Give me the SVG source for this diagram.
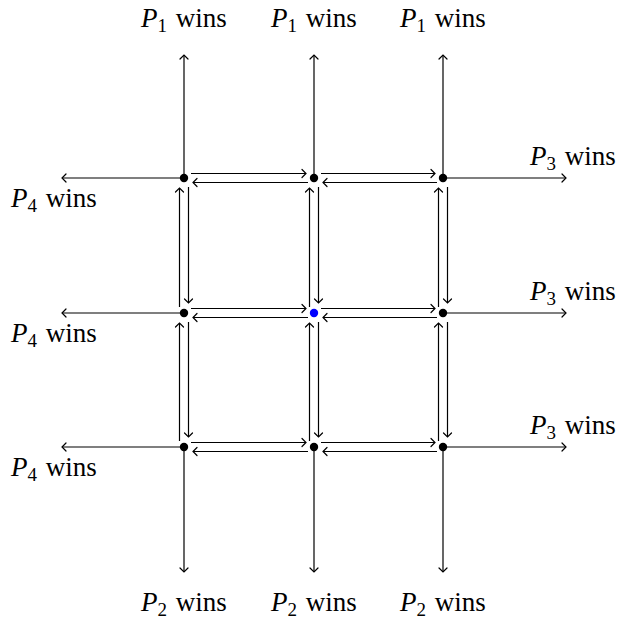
<svg xmlns="http://www.w3.org/2000/svg" width="621" height="621" viewBox="0 0 621 621">
<defs>
<marker id="ah" markerUnits="userSpaceOnUse" markerWidth="12" markerHeight="12" viewBox="-6 -6 12 12" refX="0" refY="0" orient="auto">
<path d="M-4,-4 Q-1,-1 0,0 Q-1,1 -4,4" fill="none" stroke="#000" stroke-width="1.2" stroke-linecap="round"/>
</marker>
</defs>
<style>
.c line{stroke:#000;stroke-width:1.2;marker-end:url(#ah)}
.n{fill:#000}
.p{font-style:italic}
.s{font-size:19px}
</style>
<rect width="621" height="621" fill="#fff"/>
<g id="connectors" class="c">
<line x1="184" y1="178" x2="184" y2="55"/>
<line x1="314" y1="178" x2="314" y2="55"/>
<line x1="443" y1="178" x2="443" y2="55"/>
<line x1="184" y1="447" x2="184" y2="572"/>
<line x1="314" y1="447" x2="314" y2="572"/>
<line x1="443" y1="447" x2="443" y2="572"/>
<line x1="184" y1="178" x2="62" y2="178"/>
<line x1="184" y1="313" x2="62" y2="313"/>
<line x1="184" y1="447" x2="62" y2="447"/>
<line x1="443" y1="178" x2="566" y2="178"/>
<line x1="443" y1="313" x2="566" y2="313"/>
<line x1="443" y1="447" x2="566" y2="447"/>
<line x1="191" y1="173.5" x2="306" y2="173.5"/>
<line x1="308" y1="182.5" x2="193" y2="182.5"/>
<line x1="321" y1="173.5" x2="435" y2="173.5"/>
<line x1="437" y1="182.5" x2="323" y2="182.5"/>
<line x1="191" y1="308.5" x2="306" y2="308.5"/>
<line x1="308" y1="317.5" x2="193" y2="317.5"/>
<line x1="321" y1="308.5" x2="435" y2="308.5"/>
<line x1="437" y1="317.5" x2="323" y2="317.5"/>
<line x1="191" y1="442.5" x2="306" y2="442.5"/>
<line x1="308" y1="451.5" x2="193" y2="451.5"/>
<line x1="321" y1="442.5" x2="435" y2="442.5"/>
<line x1="437" y1="451.5" x2="323" y2="451.5"/>
<line x1="179.5" y1="307" x2="179.5" y2="188"/>
<line x1="188.5" y1="187" x2="188.5" y2="303"/>
<line x1="179.5" y1="441" x2="179.5" y2="323"/>
<line x1="188.5" y1="322" x2="188.5" y2="437"/>
<line x1="309.5" y1="307" x2="309.5" y2="188"/>
<line x1="318.5" y1="187" x2="318.5" y2="303"/>
<line x1="309.5" y1="441" x2="309.5" y2="323"/>
<line x1="318.5" y1="322" x2="318.5" y2="437"/>
<line x1="438.5" y1="307" x2="438.5" y2="188"/>
<line x1="447.5" y1="187" x2="447.5" y2="303"/>
<line x1="438.5" y1="441" x2="438.5" y2="323"/>
<line x1="447.5" y1="322" x2="447.5" y2="437"/>
</g>
<g id="n11"><circle class="n" cx="184" cy="178" r="4.2"/></g>
<g id="n12"><circle class="n" cx="314" cy="178" r="4.2"/></g>
<g id="n13"><circle class="n" cx="443" cy="178" r="4.2"/></g>
<g id="n21"><circle class="n" cx="184" cy="313" r="4.2"/></g>
<g id="n22"><circle cx="314" cy="313" r="4.2" fill="#0000ff"/></g>
<g id="n23"><circle class="n" cx="443" cy="313" r="4.2"/></g>
<g id="n31"><circle class="n" cx="184" cy="447" r="4.2"/></g>
<g id="n32"><circle class="n" cx="314" cy="447" r="4.2"/></g>
<g id="n33"><circle class="n" cx="443" cy="447" r="4.2"/></g>
<g id="labels" font-family="'Liberation Serif', 'DejaVu Serif', serif" font-size="27" fill="#000" word-spacing="2">
<text x="184" y="27" text-anchor="middle"><tspan class="p">P</tspan><tspan class="s" dy="5">1</tspan><tspan dy="-5"> wins</tspan></text>
<text x="314" y="27" text-anchor="middle"><tspan class="p">P</tspan><tspan class="s" dy="5">1</tspan><tspan dy="-5"> wins</tspan></text>
<text x="443" y="27" text-anchor="middle"><tspan class="p">P</tspan><tspan class="s" dy="5">1</tspan><tspan dy="-5"> wins</tspan></text>
<text x="184" y="611" text-anchor="middle"><tspan class="p">P</tspan><tspan class="s" dy="5">2</tspan><tspan dy="-5"> wins</tspan></text>
<text x="314" y="611" text-anchor="middle"><tspan class="p">P</tspan><tspan class="s" dy="5">2</tspan><tspan dy="-5"> wins</tspan></text>
<text x="443" y="611" text-anchor="middle"><tspan class="p">P</tspan><tspan class="s" dy="5">2</tspan><tspan dy="-5"> wins</tspan></text>
<text x="573" y="165" text-anchor="middle"><tspan class="p">P</tspan><tspan class="s" dy="5">3</tspan><tspan dy="-5"> wins</tspan></text>
<text x="573" y="300" text-anchor="middle"><tspan class="p">P</tspan><tspan class="s" dy="5">3</tspan><tspan dy="-5"> wins</tspan></text>
<text x="573" y="434" text-anchor="middle"><tspan class="p">P</tspan><tspan class="s" dy="5">3</tspan><tspan dy="-5"> wins</tspan></text>
<text x="54" y="207" text-anchor="middle"><tspan class="p">P</tspan><tspan class="s" dy="5">4</tspan><tspan dy="-5"> wins</tspan></text>
<text x="54" y="342" text-anchor="middle"><tspan class="p">P</tspan><tspan class="s" dy="5">4</tspan><tspan dy="-5"> wins</tspan></text>
<text x="54" y="476" text-anchor="middle"><tspan class="p">P</tspan><tspan class="s" dy="5">4</tspan><tspan dy="-5"> wins</tspan></text>
</g>
</svg>
